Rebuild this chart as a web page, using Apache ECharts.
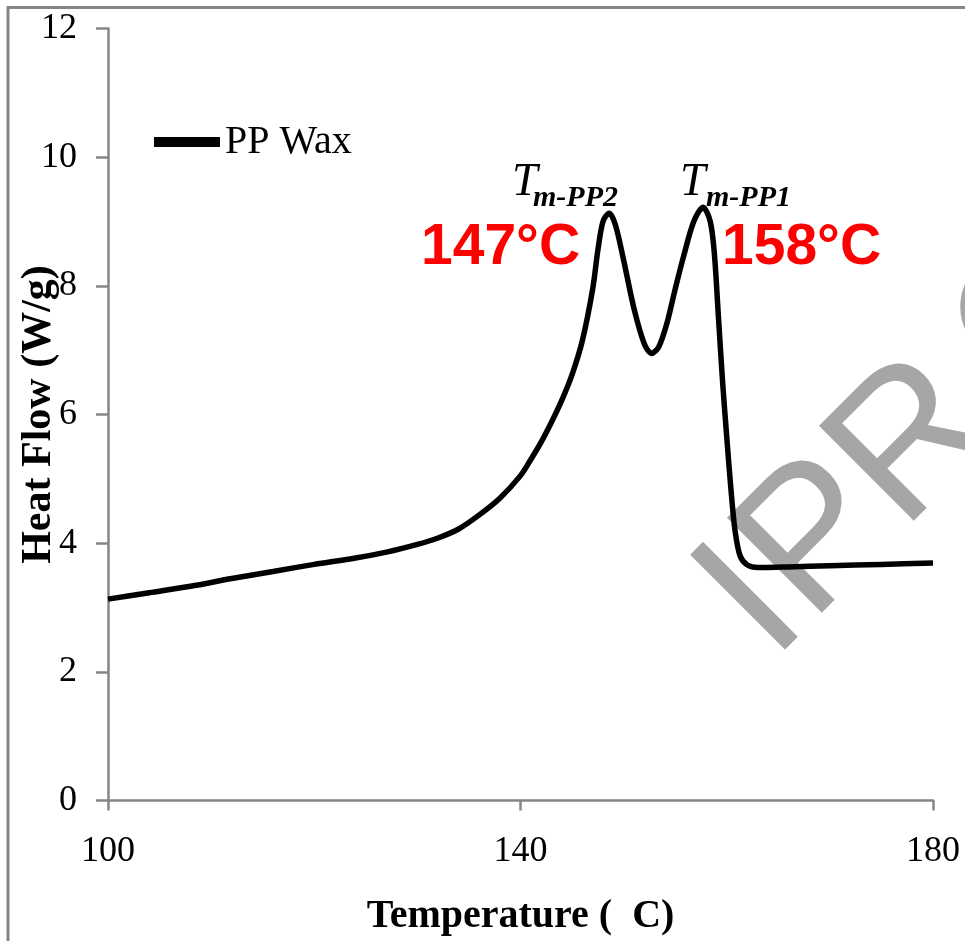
<!DOCTYPE html>
<html>
<head>
<meta charset="utf-8">
<script src="https://cdn.jsdelivr.net/npm/echarts@6/dist/echarts.min.js"></script>
<style>
  html, body { margin: 0; padding: 0; background: #ffffff; }
  #chart { width: 965px; height: 941px; }
</style>
</head>
<body>
<div id="chart"></div>
<script>
// DSC melting curve of PP wax
const temperature = [
  100, 104, 108, 112, 116, 120, 124, 127, 130, 132, 134, 136, 138, 140, 141, 142, 143, 144, 145, 146,
  147, 147.5, 148, 148.6, 149.2, 150, 151, 152, 152.7, 153.4, 154.2, 155, 155.8, 156.8, 157.7,
  158.4, 158.8, 159.2, 159.6, 160.0, 160.4, 160.8, 161.3, 162, 163, 166, 170, 175, 180
];
const heatFlow = [
  3.13, 3.23, 3.33, 3.45, 3.56, 3.67, 3.77, 3.86, 3.98, 4.08, 4.22, 4.44, 4.70, 5.05, 5.30, 5.57, 5.88, 6.22, 6.62, 7.15,
  7.95, 8.55, 9.00, 9.13, 8.95, 8.40, 7.65, 7.10, 6.95, 7.05, 7.42, 7.95, 8.45, 9.00, 9.22,
  9.00, 8.50, 7.50, 6.50, 5.65, 4.85, 4.20, 3.80, 3.66, 3.62, 3.63, 3.65, 3.67, 3.69
];
const xTicks = [100, 140, 180];
const yTicks = [0, 2, 4, 6, 8, 10, 12];
const seriesName = 'PP Wax';
const peakLabels = ['147°C', '158°C'];
const peakNames = [['T', 'm-PP2'], ['T', 'm-PP1']];

const SERIF = '"Liberation Serif", "Times New Roman", serif';
const SANS = '"Liberation Sans", Arial, sans-serif';
const AXIS_GREY = '#868686';

const chart = echarts.init(document.getElementById('chart'), null, { renderer: 'canvas' });

// place text so that its baseline sits at y (canvas "middle" baseline offset)
function baselineText(text, x, baseline, font, size, fill, ratio) {
  return {
    type: 'text',
    z: 10,
    style: {
      text: text,
      x: x,
      y: baseline - ratio * size,
      font: font,
      fill: fill,
      align: 'left',
      verticalAlign: 'middle'
    }
  };
}

// diagonal watermark, written along a 45° baseline starting at (wmX, wmY)
const wmSize = 195;
const wmX = 782, wmY = 672;
function watermarkPart(text, offset) {
  const d = offset * Math.SQRT1_2;
  return {
    type: 'text', z: 1, x: wmX + d, y: wmY - d, rotation: Math.PI / 4,
    style: { text: text, x: 0, y: -0.3465 * wmSize, font: wmSize + 'px ' + SANS,
             fill: '#a6a6a6', align: 'left', verticalAlign: 'middle' }
  };
}

const option = {
  animation: false,
  backgroundColor: '#ffffff',
  grid: {
    left: 108, right: 32, top: 28.5, bottom: 140.5,
    containLabel: false, outerBoundsMode: 'none'
  },
  legend: {
    left: 154, top: 122, padding: 0,
    icon: 'rect', itemWidth: 66, itemHeight: 10,
    data: [seriesName],
    textStyle: { fontFamily: SERIF, fontSize: 40, color: '#000000' }
  },
  xAxis: {
    type: 'value',
    min: xTicks[0], max: xTicks[xTicks.length - 1], interval: xTicks[1] - xTicks[0],
    name: 'Temperature (  C)', nameLocation: 'middle', nameGap: 96, nameMoveOverlap: false,
    nameTextStyle: { fontFamily: SERIF, fontWeight: 'bold', fontSize: 40, color: '#000000' },
    axisLine: { show: true, onZero: false, lineStyle: { color: AXIS_GREY, width: 2.5 } },
    axisTick: { show: true, length: 10, lineStyle: { color: AXIS_GREY, width: 2.5 } },
    axisLabel: { fontFamily: SERIF, fontSize: 36, color: '#000000', margin: 33 },
    splitLine: { show: false }
  },
  yAxis: {
    type: 'value',
    min: yTicks[0], max: yTicks[yTicks.length - 1], interval: yTicks[1] - yTicks[0],
    name: 'Heat Flow (W/g)', nameLocation: 'middle', nameGap: 48, nameRotate: 90, nameMoveOverlap: false,
    nameTextStyle: { fontFamily: SERIF, fontWeight: 'bold', fontSize: 42, color: '#000000' },
    axisLine: { show: true, lineStyle: { color: AXIS_GREY, width: 2.5 } },
    axisTick: { show: true, length: 12, lineStyle: { color: AXIS_GREY, width: 2.5 } },
    axisLabel: { fontFamily: SERIF, fontSize: 36, color: '#000000', margin: 31 },
    splitLine: { show: false }
  },
  series: [{
    name: seriesName,
    type: 'line',
    z: 5,
    data: temperature.map((t, i) => [t, heatFlow[i]]),
    showSymbol: false,
    smooth: 0.3,
    color: '#000000',
    lineStyle: { color: '#000000', width: 5.5 }
  }],
  graphic: [
    // page frame
    { type: 'rect', z: 0, shape: { x: 8, y: 7.5, width: 1200, height: 1200 },
      style: { fill: 'none', stroke: AXIS_GREY, lineWidth: 3 } },
    // watermark
    watermarkPart('IPR', 0),
    watermarkPart('O', 357),
    // peak annotations
    baselineText(peakNames[0][0], 512, 198, 'italic 46px ' + SERIF, 46, '#000000', 0.3375),
    baselineText(peakNames[0][1], 533, 208, 'italic bold 30px ' + SERIF, 30, '#000000', 0.3375),
    baselineText(peakNames[1][0], 680, 198, 'italic 46px ' + SERIF, 46, '#000000', 0.3375),
    baselineText(peakNames[1][1], 706, 208, 'italic bold 30px ' + SERIF, 30, '#000000', 0.3375),
    baselineText(peakLabels[0], 421, 268, 'bold 57px ' + SANS, 57, '#ff0000', 0.3465),
    baselineText(peakLabels[1], 722, 268, 'bold 57px ' + SANS, 57, '#ff0000', 0.3465)
  ]
};

chart.setOption(option);
</script>
</body>
</html>
